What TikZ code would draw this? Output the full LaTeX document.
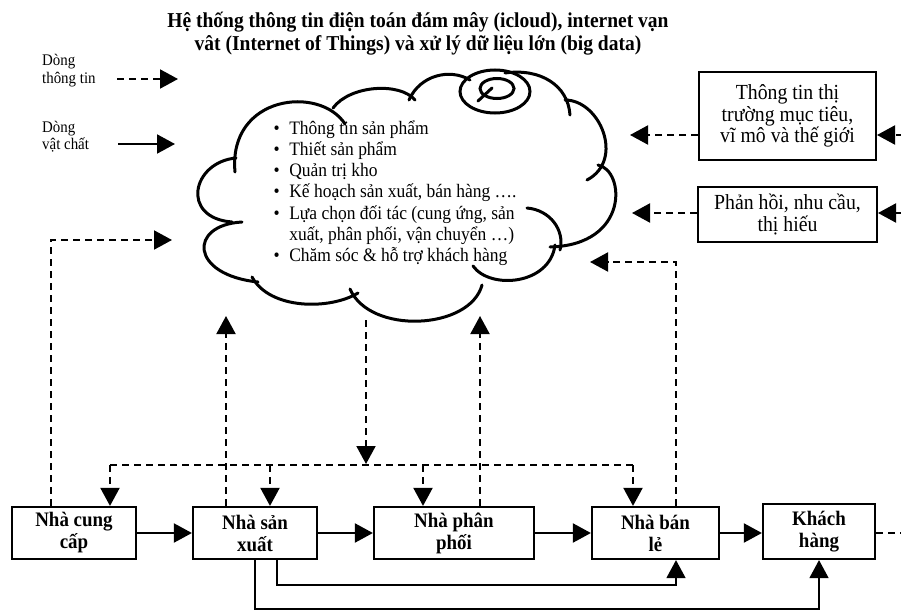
\documentclass[tikz,border=0pt]{standalone}
\usepackage{fontspec}
\setmainfont{Liberation Serif}[FakeStretch=0.92]
\usetikzlibrary{arrows.meta,calc}
\begin{document}
\begin{tikzpicture}[x=1pt,y=-1pt,
  tip/.style={-{Triangle[length=18pt,width=19pt]}},
  dsh/.style={line width=2pt,dash pattern=on 7pt off 5pt},
  sol/.style={line width=2pt},
  thinln/.style={line width=1.5pt},
  cl/.style={line width=3pt,line cap=round},
  box/.style={draw,line width=2.2pt,inner sep=0pt,align=center,
    font=\fontsize{20.6}{22}\selectfont\bfseries},
  rbox/.style={draw,line width=2pt,inner sep=0pt,align=center,
    font=\fontsize{21.5}{21.7}\selectfont},
  legend/.style={anchor=base west,inner sep=0pt,font=\fontsize{16.2}{17.5}\selectfont},
]
\useasboundingbox (0,0) rectangle (901,610);
\clip (0,0) rectangle (901,610);

% title
\node[anchor=base,inner sep=0pt,font=\fontsize{21.2}{22.8}\selectfont\bfseries] (title) at (418,27.7)
  {\begin{tabular}[t]{@{}c@{}}Hệ thống thông tin điện toán đám mây (icloud), internet vạn\\
   vât (Internet of Things) và xử lý dữ liệu lớn (big data)\end{tabular}};

% legend
\node[legend] (lg1) at (42,65.7) {\begin{tabular}[t]{@{}l@{}}Dòng\\thông tin\end{tabular}};
\node[legend] (lg2) at (42,132.3) {\begin{tabular}[t]{@{}l@{}}Dòng\\vật chất\end{tabular}};
\coordinate (lg1s) at (117,79);
\coordinate (lg1e) at (178,79);
\coordinate (lg2s) at (118,144);
\coordinate (lg2e) at (175,144);
\draw[dsh,tip] (lg1s) -- (lg1e);
\draw[sol,tip] (lg2s) -- (lg2e);

% cloud
\draw[cl] (235,172) .. controls (228,95) and (320,85) .. (345,124);
\draw[cl] (333,108) .. controls (350,85) and (400,82) .. (415,100);
\draw[cl] (409,100) .. controls (420,75) and (450,68) .. (470,80);
\draw[cl] (505,73) .. controls (540,68) and (568,85) .. (570,115);
\draw[cl] (565,100) .. controls (600,100) and (625,160) .. (587,180);
\draw[cl] (598,165) .. controls (625,170) and (630,245) .. (550,247);
\draw[cl] (527,208) .. controls (550,210) and (565,230) .. (560,250);
\draw[cl] (555,245) .. controls (550,285) and (490,290) .. (473,266);
\draw[cl] (482,285) .. controls (470,330) and (370,335) .. (350,289);
\draw[cl] (358,293) .. controls (330,310) and (270,310) .. (252,277);
\draw[cl] (258,282) .. controls (190,275) and (188,225) .. (242,222);
\draw[cl] (236,158) .. controls (192,162) and (180,218) .. (232,222);
% spiral
\draw[cl] (495,91.5) ellipse [x radius=35pt, y radius=21.5pt];
\draw[cl] (497,88.5) ellipse [x radius=17pt, y radius=10pt];
\draw[cl] (478,101) -- (492,88);

% cloud text
\node[anchor=base west,inner sep=0pt,font=\fontsize{19}{21.3}\selectfont] (ctext) at (273.5,134)
 {\begin{tabular}[t]{@{}l@{\hspace{9.5pt}}l@{}}
 •&Thông tin sản phẩm\\
 •&Thiết sản phẩm\\
 •&Quản trị kho\\
 •&Kế hoạch sản xuất, bán hàng ….\\
 •&Lựa chọn đối tác (cung ứng, sản\\
  &xuất, phân phối, vận chuyển …)\\
 •&Chăm sóc \& hỗ trợ khách hàng
 \end{tabular}};

% right boxes
\node[rbox,minimum width=177pt,minimum height=88pt] (rb1) at (787.5,116)
  {Thông tin thị\\trường mục tiêu,\\vĩ mô và thế giới};
\node[rbox,minimum width=179pt,minimum height=55pt] (rb2) at (787.5,214.5)
  {Phản hồi, nhu cầu,\\thị hiếu};
\coordinate (a1) at (630,135);
\coordinate (a2) at (632,213);
\coordinate (e1) at (915,135);
\coordinate (e2) at (915,213);
\draw[dsh,tip] (rb1.west |- a1) -- (a1);
\draw[dsh,tip] (rb2.west |- a2) -- (a2);
\draw[dsh,tip] (e1) -- (rb1.east |- e1);
\draw[dsh,tip] (e2) -- (rb2.east |- e2);

% bottom boxes
\node[box,minimum width=124pt,minimum height=52pt] (b1) at (74,533) {Nhà cung\\cấp};
\node[box,minimum width=124pt,minimum height=52pt] (b2) at (255,533) {Nhà sản\\xuất};
\node[box,minimum width=160pt,minimum height=52pt] (b3) at (454,533) {Nhà phân\\phối};
\node[box,minimum width=127pt,minimum height=52pt] (b4) at (655.5,533) {Nhà bán\\lẻ};
\node[box,minimum width=112pt,minimum height=55pt] (b5) at (819,531.5) {Khách\\hàng};

\draw[sol,tip] (b1) -- (b2);
\draw[sol,tip] (b2) -- (b3);
\draw[sol,tip] (b3) -- (b4);
\draw[sol,tip] (b4.east) -- (b4.east -| b5.west);
\coordinate (bo) at (910,533);
\draw[dsh] (b5.east |- bo) -- (bo);

\draw[thinln,tip] ([xshift=22pt]b2.south) -- ++(0,25) -| ([xshift=20.5pt]b4.south);
\draw[thinln,tip] (b2.south) -- ++(0,49) -| (b5.south);

% dashed information flows
\coordinate (t1) at (172,240);
\coordinate (t2) at (226,316);
\coordinate (t3) at (480,316);
\coordinate (t4) at (590,262);
\draw[dsh,tip] ([xshift=-23pt]b1.north) |- (t1);
\draw[dsh,tip] (t2 |- b2.north) -- (t2);
\draw[dsh,tip] (t3 |- b3.north) -- (t3);
\draw[dsh,tip] ([xshift=20.5pt]b4.north) |- (t4);

\coordinate (cs) at (366,320);
\coordinate (ce) at (366,464);
\draw[dsh,tip] (cs) -- (ce);
\coordinate (hL) at (110,465);
\coordinate (h2) at (270,465);
\coordinate (h3) at (423,465);
\coordinate (hR) at (633,465);
\draw[dsh] (hL) -- (hR);
\draw[dsh,tip] (hL) -- (hL |- b1.north);
\draw[dsh,tip] (h2) -- (h2 |- b2.north);
\draw[dsh,tip] (h3) -- (h3 |- b3.north);
\draw[dsh,tip] (hR) -- (hR |- b4.north);
\end{tikzpicture}
\end{document}
